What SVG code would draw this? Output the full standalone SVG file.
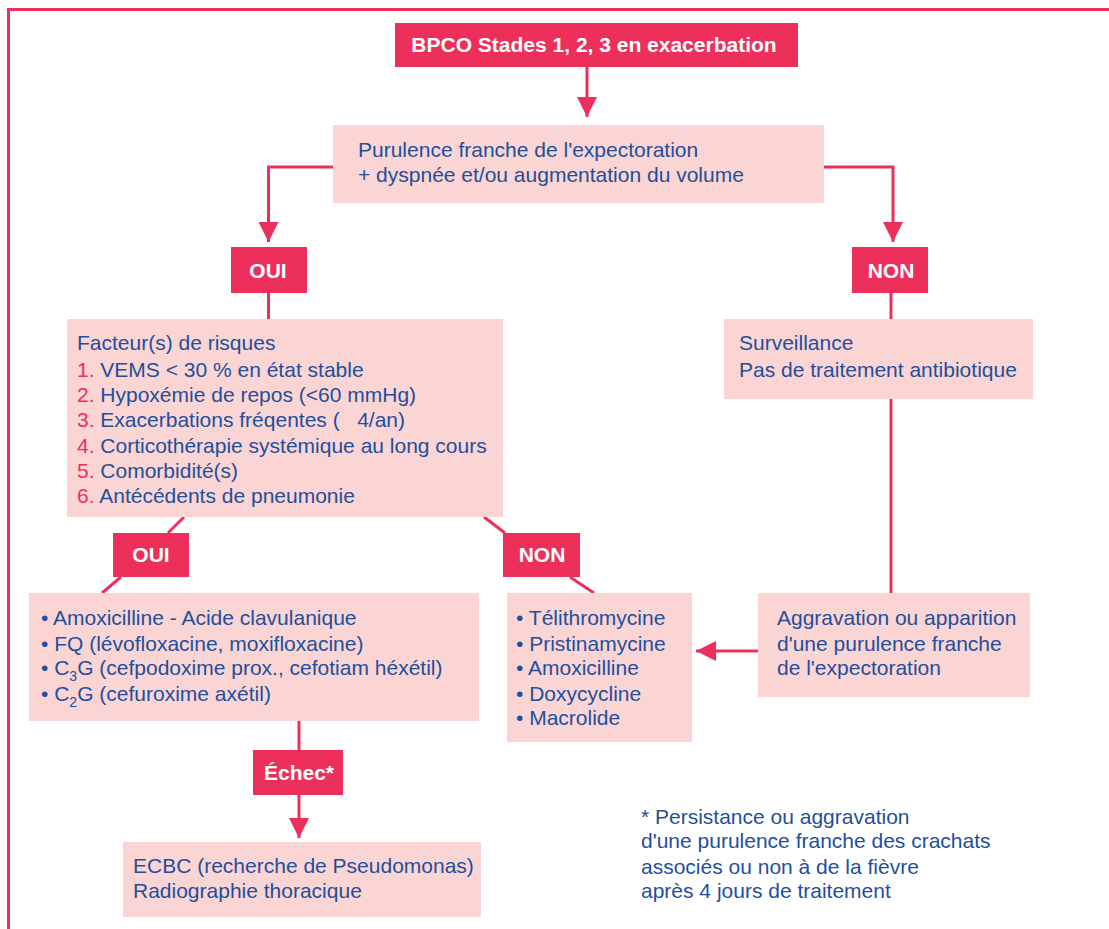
<svg xmlns="http://www.w3.org/2000/svg" width="1109" height="929" viewBox="0 0 1109 929">
<style>
.box{fill:#FAD5D3}
.tag{fill:#EC2F5B}
.t{font-family:"Liberation Sans",Arial,sans-serif;font-size:21px;fill:#1F4F9D}
.w{font-family:"Liberation Sans",Arial,sans-serif;font-size:21px;font-weight:bold;fill:#FFFFFF}
.n{fill:#EC2F5B}
.ln{stroke:#EC2F5B;stroke-width:3;fill:none}
</style>
<defs>
<marker id="ah" viewBox="0 0 20 30" refX="20" refY="15" markerWidth="20" markerHeight="30" markerUnits="userSpaceOnUse" orient="auto">
<path d="M0,5 L30,15 L0,25 Z" fill="#EC2F5B" transform="scale(0.6667,1)"/>
</marker>
</defs>
<rect width="1109" height="929" fill="#FFFFFF"/>
<path d="M1109,9.5 H8.5 V929" class="ln"/>

<g id="connectors">
<path d="M587,67 V117" class="ln" marker-end="url(#ah)"/>
<path d="M333,167 H268.5 V242" class="ln" marker-end="url(#ah)"/>
<path d="M824,167 H893 V242" class="ln" marker-end="url(#ah)"/>
<path d="M268.5,293 V319" class="ln"/>
<path d="M891,293 V319" class="ln"/>
<path d="M891,399 V593" class="ln"/>
<path d="M184,517 L168,533" class="ln"/>
<path d="M121,577 L102,593" class="ln"/>
<path d="M484,517 L505,533" class="ln"/>
<path d="M570,577 L594,593" class="ln"/>
<path d="M758,651 H696" class="ln" marker-end="url(#ah)"/>
<path d="M299,721 V750" class="ln"/>
<path d="M299,795 V838" class="ln" marker-end="url(#ah)"/>
</g>

<g id="title">
<rect x="395" y="23" width="403" height="44" class="tag"/>
<text x="594" y="52" class="w" text-anchor="middle">BPCO Stades 1, 2, 3 en exacerbation</text>
</g>

<g id="purulence">
<rect x="333" y="125" width="491" height="78" class="box"/>
<text x="358" y="157" class="t">Purulence franche de l'expectoration</text>
<text x="358" y="182" class="t">+ dyspnée et/ou augmentation du volume</text>
</g>

<g id="oui1">
<rect x="231" y="247" width="76" height="46" class="tag"/>
<text x="268" y="278" class="w" text-anchor="middle">OUI</text>
</g>

<g id="non1">
<rect x="852" y="247" width="76" height="46" class="tag"/>
<text x="891" y="278" class="w" text-anchor="middle">NON</text>
</g>

<g id="facteurs">
<rect x="67" y="319" width="436" height="198" class="box"/>
<text x="77" y="350" class="t">Facteur(s) de risques</text>
<text x="77" y="377" class="t"><tspan class="n">1.</tspan> VEMS &lt; 30 % en état stable</text>
<text x="77" y="402" class="t"><tspan class="n">2.</tspan> Hypoxémie de repos (&lt;60 mmHg)</text>
<text x="77" y="427" class="t"><tspan class="n">3.</tspan> Exacerbations fréqentes (&#160;&#160;&#160;4/an)</text>
<text x="77" y="453" class="t"><tspan class="n">4.</tspan> Corticothérapie systémique au long cours</text>
<text x="77" y="478" class="t"><tspan class="n">5.</tspan> Comorbidité(s)</text>
<text x="77" y="503" class="t"><tspan class="n">6.</tspan> Antécédents de pneumonie</text>
</g>

<g id="surveillance">
<rect x="724" y="319" width="309" height="80" class="box"/>
<text x="739" y="350" class="t">Surveillance</text>
<text x="739" y="377" class="t">Pas de traitement antibiotique</text>
</g>

<g id="oui2">
<rect x="113" y="533" width="76" height="44" class="tag"/>
<text x="151" y="562" class="w" text-anchor="middle">OUI</text>
</g>

<g id="non2">
<rect x="503" y="533" width="77" height="44" class="tag"/>
<text x="542" y="562" class="w" text-anchor="middle">NON</text>
</g>

<g id="amox">
<rect x="29" y="593" width="450" height="128" class="box"/>
<text x="41" y="625" class="t">• Amoxicilline - Acide clavulanique</text>
<text x="41" y="651" class="t">• FQ (lévofloxacine, moxifloxacine)</text>
<text x="41" y="675" class="t">• C<tspan font-size="14" dy="6">3</tspan><tspan dy="-6">G (cefpodoxime prox., cefotiam héxétil)</tspan></text>
<text x="41" y="701" class="t">• C<tspan font-size="14" dy="6">2</tspan><tspan dy="-6">G (cefuroxime axétil)</tspan></text>
</g>

<g id="telithro">
<rect x="507" y="593" width="185" height="149" class="box"/>
<text x="516" y="625" class="t">• Télithromycine</text>
<text x="516" y="651" class="t">• Pristinamycine</text>
<text x="516" y="675" class="t">• Amoxicilline</text>
<text x="516" y="701" class="t">• Doxycycline</text>
<text x="516" y="725" class="t">• Macrolide</text>
</g>

<g id="aggravation">
<rect x="758" y="593" width="272" height="104" class="box"/>
<text x="777" y="625" class="t">Aggravation ou apparition</text>
<text x="777" y="651" class="t">d'une purulence franche</text>
<text x="777" y="675" class="t">de l'expectoration</text>
</g>

<g id="echec">
<rect x="253" y="750" width="90" height="45" class="tag"/>
<text x="299" y="780" class="w" text-anchor="middle">Échec*</text>
</g>

<g id="ecbc">
<rect x="123" y="842" width="358" height="75" class="box"/>
<text x="133" y="873" class="t">ECBC (recherche de Pseudomonas)</text>
<text x="133" y="898" class="t">Radiographie thoracique</text>
</g>

<g id="footnote">
<text x="641" y="824" class="t">* Persistance ou aggravation</text>
<text x="641" y="848" class="t">d'une purulence franche des crachats</text>
<text x="641" y="874" class="t">associés ou non à de la fièvre</text>
<text x="641" y="898" class="t">après 4 jours de traitement</text>
</g>
</svg>
